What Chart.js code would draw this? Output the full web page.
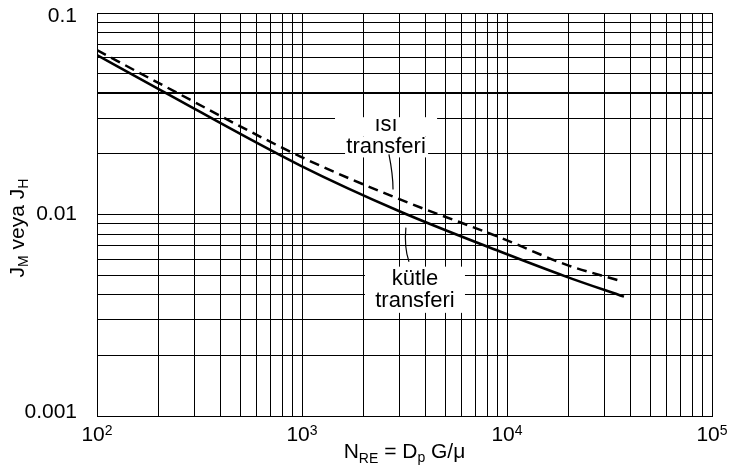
<!DOCTYPE html>
<html>
<head>
<meta charset="utf-8">
<script src="https://cdn.jsdelivr.net/npm/chart.js@4.4.1/dist/chart.umd.min.js"></script>
<style>
body{margin:0;background:#fff}
#wrap{width:732px;height:470px;position:relative}
</style>
</head>
<body>
<div id="wrap"><canvas id="grafica"></canvas></div>
<script>

// kutle transferi (solid) and isi transferi (dashed)
const reKutle=[100,196,977,3006,9245,19400,37200]
const jKutle=[0.0618,0.0424,0.01754,0.01035,0.00655,0.00492,0.00391]

const reIsi=[100,196,977,3006,9245,19400,35200]
const jIsi=[0.0654,0.0454,0.01944,0.01188,0.00769,0.00564,0.0047]

const xTicks=[100,1000,10000,100000]
const xExp=["2","3","4","5"]
const yTicks=[0.1,0.01,0.001]
const yTickText=["0.1","0.01","0.001"]

const FONT='Arial, "Liberation Sans", sans-serif'

function puntos(xs,ys){
return xs.map((x,i)=>({x:x,y:ys[i]}))
}

function ticksLog(min,max){
let t=[]
for(let e=Math.round(Math.log10(min)); e<Math.round(Math.log10(max)); e++){
for(let s=1;s<10;s++) t.push(s*Math.pow(10,e))
}
t.push(max)
return t
}

// label boxes and pointers, in data units
const cajas=[
{x0:1449,x1:4560,y0:0.0304,y1:0.0244},
{x0:1622,x1:4121,y0:0.0244,y1:0.0192},
{x0:2028,x1:6237,y0:0.00551,y1:0.00325}
]
const textos=[
{t:"ısı",x:2570,y:0.0259},
{t:"transferi",x:2570,y:0.0203},
{t:"kütle",x:3556,y:0.00449},
{t:"transferi",x:3556,y:0.00348}
]
const flechas=[
{a:[2655,0.0199],c:[2780,0.0158],b:[2780,0.0133]},
{a:[3212,0.00861],c:[3145,0.00686],b:[3326,0.00583]}
]

function textoRico(ctx,partes,x,y,align){
// partes: [texto, size, dy]
let w=0
partes.forEach(p=>{ctx.font=p[1]+"px "+FONT; w+=ctx.measureText(p[0]).width})
let cx=align==="center"? x-w/2 : x
partes.forEach(p=>{
ctx.font=p[1]+"px "+FONT
ctx.fillText(p[0],cx,y+p[2])
cx+=ctx.measureText(p[0]).width
})
}

const anotaciones={
id:"anotaciones",
beforeDatasetsDraw(chart){
const ctx=chart.ctx
const sx=chart.scales.x, sy=chart.scales.y
ctx.save()
ctx.fillStyle="#fff"
cajas.forEach(c=>{
const x0=sx.getPixelForValue(c.x0), x1=sx.getPixelForValue(c.x1)
const y0=sy.getPixelForValue(c.y0), y1=sy.getPixelForValue(c.y1)
ctx.fillRect(x0,y0,x1-x0,y1-y0)
})
ctx.restore()
},
afterDatasetsDraw(chart){
const ctx=chart.ctx
const sx=chart.scales.x, sy=chart.scales.y
ctx.save()
ctx.fillStyle="#000"
ctx.font="22px "+FONT
ctx.textAlign="center"
ctx.textBaseline="alphabetic"
textos.forEach(t=>{
ctx.fillText(t.t,sx.getPixelForValue(t.x),sy.getPixelForValue(t.y))
})
ctx.strokeStyle="#000"
ctx.lineWidth=1.2
flechas.forEach(f=>{
ctx.beginPath()
ctx.moveTo(sx.getPixelForValue(f.a[0]),sy.getPixelForValue(f.a[1]))
ctx.quadraticCurveTo(sx.getPixelForValue(f.c[0]),sy.getPixelForValue(f.c[1]),sx.getPixelForValue(f.b[0]),sy.getPixelForValue(f.b[1]))
ctx.stroke()
})
ctx.restore()
},
afterDraw(chart){
const ctx=chart.ctx
const sx=chart.scales.x, sy=chart.scales.y
const area=chart.chartArea
ctx.save()
ctx.fillStyle="#000"

// y tick labels
ctx.font="21px "+FONT
ctx.textAlign="right"
ctx.textBaseline="middle"
yTicks.forEach((v,i)=>{
let y=sy.getPixelForValue(v)
y=Math.min(Math.max(y,area.top+3),area.bottom-4)
ctx.fillText(yTickText[i],77,y)
})

// x tick labels 10^n
ctx.textAlign="left"
ctx.textBaseline="alphabetic"
xTicks.forEach((v,i)=>{
const x=sx.getPixelForValue(v)
textoRico(ctx,[["10",21,0],[xExp[i],14,-6]],x,area.bottom+25,"center")
})

// x title
textoRico(ctx,[["N",21,0],["RE",14,5],[" = D",21,0],["p",14,4],[" G/μ",21,0]],(area.left+area.right)/2,area.bottom+42,"center")

// y title
ctx.translate(24,228)
ctx.rotate(-Math.PI/2)
textoRico(ctx,[["J",21,0],["M",14,4],[" veya J",21,0],["H",14,4]],0,0,"center")
ctx.restore()
}
}

new Chart(document.getElementById("grafica"),{

type:"line",

data:{
datasets:[
{
label:"kütle transferi",
data:puntos(reKutle,jKutle),
borderColor:"#000",
borderWidth:2.5,
pointRadius:0,
fill:false,
cubicInterpolationMode:"monotone"
},
{
label:"ısı transferi",
data:puntos(reIsi,jIsi),
borderColor:"#000",
borderWidth:2.5,
borderDash:[10,6],
pointRadius:0,
fill:false,
cubicInterpolationMode:"monotone"
}
]
},

options:{
responsive:true,
maintainAspectRatio:false,
animation:false,
layout:{padding:{left:97,right:20,top:13,bottom:54}},
plugins:{legend:{display:false},tooltip:{enabled:false}},
scales:{
x:{
type:"logarithmic",
min:100,
max:100000,
afterBuildTicks:s=>{s.ticks=ticksLog(100,100000).map(v=>({value:v}))},
ticks:{display:false},
grid:{color:"#000",lineWidth:1,drawTicks:false},
border:{color:"#000",width:1}
},
y:{
type:"logarithmic",
min:0.001,
max:0.1,
afterBuildTicks:s=>{s.ticks=ticksLog(0.001,0.1).map(v=>({value:v}))},
ticks:{display:false},
grid:{
color:"#000",
drawTicks:false,
lineWidth:c=>c.tick && Math.abs(c.tick.value-0.04)<1e-9 ? 2 : 1
},
border:{color:"#000",width:1}
}
}
},

plugins:[anotaciones]

})

</script>
</body>
</html>
